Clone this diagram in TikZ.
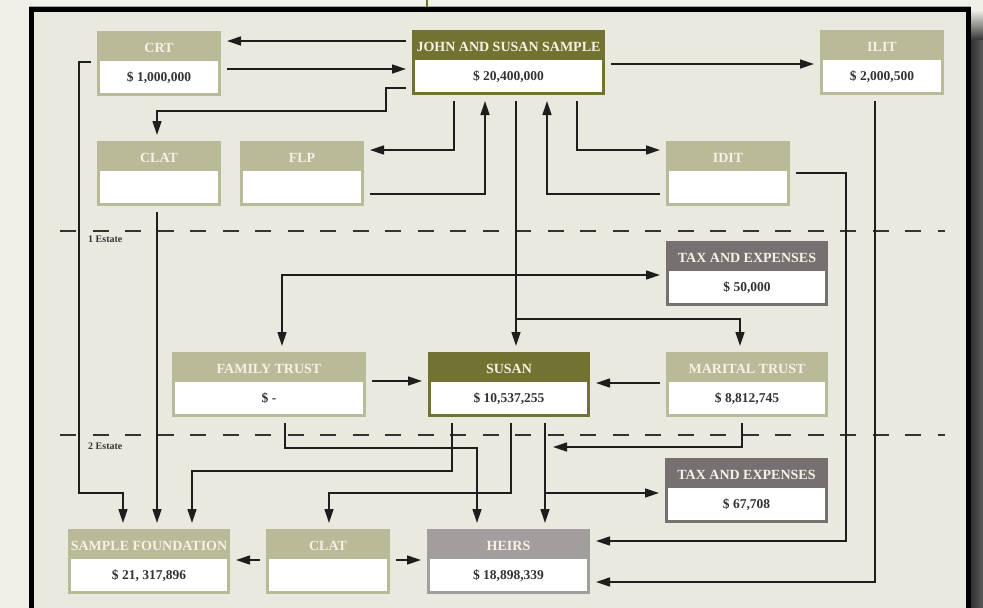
\documentclass[tikz,border=0pt]{standalone}
\usepackage{fontspec}
\setmainfont{Liberation Serif}
\usetikzlibrary{calc,arrows.meta}
\definecolor{pagebg}{HTML}{F0F0E8}
\definecolor{innerbg}{HTML}{E9E9E0}
\definecolor{sage}{HTML}{B9BA97}
\definecolor{olive}{HTML}{727331}
\definecolor{taxgray}{HTML}{767070}
\definecolor{heirgray}{HTML}{A39E9E}
\definecolor{headfg}{HTML}{F4F2E6}
\definecolor{valfg}{HTML}{333333}
\definecolor{linefg}{HTML}{1E1E1E}
\definecolor{shadowdark}{HTML}{333333}
\definecolor{shadowlight}{HTML}{5A5A5A}
\tikzset{
  boxshape/.style={rectangle, inner sep=0pt, outer sep=6pt, minimum height=65pt},
  headtext/.style={text=headfg, font=\bfseries\fontsize{14}{14}\selectfont, inner sep=0pt, anchor=base},
  valtext/.style={text=valfg, font=\bfseries\fontsize{13.5}{13.5}\selectfont, inner sep=0pt, anchor=base},
  conn/.style={draw=linefg, line width=1.4pt, -{Triangle[length=14pt,width=9pt]}},
  connboth/.style={draw=linefg, line width=1.4pt, {Triangle[length=14pt,width=9pt]}-{Triangle[length=14pt,width=9pt]}},
  estate/.style={text=valfg, font=\bfseries\fontsize{10}{10}\selectfont, inner sep=0pt, anchor=base west},
  divider/.style={draw=valfg, line width=2pt, dash pattern=on 16pt off 16.5pt}
}
% name, cx, cy, width, colour, header, value
\newcommand\ebox[7]{%
  \node[boxshape, fill=#5, minimum width=#4pt] (#1) at (#2,#3) {};
  \fill[white] ({#2-#4/2+3},{#3-2.5}) rectangle ({#2+#4/2-3},{#3+29.5});
  \node[headtext] (#1-h) at ({#2},{#3-11}) {#6};
  \node[valtext] (#1-v) at ({#2},{#3+18}) {#7};
}
\begin{document}
\begin{tikzpicture}[x=1pt,y=-1pt]
\useasboundingbox (0,0) rectangle (983,608);
% page and frame
\fill[pagebg] (0,0) rectangle (983,608);
\fill[innerbg] (34,12) rectangle (966,608);
\fill[black!35] (29,6) rectangle (971,7);
\fill[black] (29,7) rectangle (971,12);
\fill[black] (29,7) rectangle (34,608);
\fill[black] (966,7) rectangle (971,608);
\shade[top color=pagebg, bottom color=shadowdark] (971,10) rectangle (983,40);
\shade[left color=shadowdark, right color=shadowlight] (971,40) rectangle (983,608);
\fill[olive] (426,0) rectangle (428,7);
% dividers
\draw[divider] (60,231) -- (945,231);
\draw[divider] (60,435) -- (945,435);
\node[estate] (est1) at (88,242) {1 Estate};
\node[estate] (est2) at (88,449) {2 Estate};
% boxes
\ebox{crt}{159}{63}{124}{sage}{CRT}{\$ 1,000,000}
\ebox{jss}{508.5}{62.5}{193}{olive}{JOHN AND SUSAN SAMPLE}{\$ 20,400,000}
\ebox{ilit}{882}{62.5}{124}{sage}{ILIT}{\$ 2,000,500}
\ebox{clat1}{159}{173.5}{124}{sage}{CLAT}{}
\ebox{flp}{302}{173.5}{124}{sage}{FLP}{}
\ebox{idit}{728}{173.5}{124}{sage}{IDIT}{}
\ebox{tax1}{747}{273.5}{162}{taxgray}{TAX AND EXPENSES}{\$ 50,000}
\ebox{family}{269}{384.5}{194}{sage}{FAMILY TRUST}{\$ -}
\ebox{susan}{509}{384.5}{162}{olive}{SUSAN}{\$ 10,537,255}
\ebox{marital}{747}{384.5}{162}{sage}{MARITAL TRUST}{\$ 8,812,745}
\ebox{tax2}{746.5}{490.5}{163}{taxgray}{TAX AND EXPENSES}{\$ 67,708}
\ebox{sf}{149}{561.5}{162}{sage}{SAMPLE FOUNDATION}{\$ 21, 317,896}
\ebox{clat2}{328}{561.5}{124}{sage}{CLAT}{}
\ebox{heirs}{508.5}{561.5}{163}{heirgray}{HEIRS}{\$ 18,898,339}
% junction points
\coordinate (jm) at (516,319);
\coordinate (jh) at (545,493);
\coordinate (jmt) at (553,447);
% connectors, upper part
\draw[conn] (jss.west |- 0,41) -- (crt.east |- 0,41);
\draw[conn] (crt.east |- 0,69) -- (jss.west |- 0,69);
\draw[conn] (jss.west |- 0,88) -| (386,111) -| (clat1.north -| 157,0);
\draw[conn] (jss.south -| 454,0) |- (flp.east |- 0,150);
\draw[conn] (flp.east |- 0,194) -| (jss.south -| 485,0);
\draw[conn] (jss.east |- 0,64) -- (ilit.west |- 0,64);
\draw[conn] (idit.west |- 0,194) -| (jss.south -| 547,0);
\draw[conn] (jss.south -| 577,0) |- (idit.west |- 0,150);
\draw[conn] (jss.south -| 516,0) -- (susan.north -| 516,0);
\draw[conn] (jm) -| (marital.north -| 740,0);
\draw[conn] (idit.east |- 0,173) -| (846,541) -- (heirs.east |- 0,541);
\draw[conn] (ilit.south -| 875,0) |- (heirs.east |- 0,582);
\draw[conn] (crt.west |- 0,62) -| (79,493) -| (sf.north -| 123,0);
\draw[conn] (clat1.south -| 157,0) -- (sf.north -| 157,0);
% middle
\draw[connboth] (family.north -| 282,0) |- (tax1.west |- 0,275);
\draw[conn] (family.east |- 0,381) -- (susan.west |- 0,381);
\draw[conn] (marital.west |- 0,383) -- (susan.east |- 0,383);
% lower
\draw[conn] (family.south -| 285,0) |- (477,448) -- (heirs.north -| 477,0);
\draw[conn] (susan.south -| 452,0) |- (192,471) -- (sf.north -| 192,0);
\draw[conn] (susan.south -| 511,0) |- (329,493) -- (clat2.north -| 329,0);
\draw[conn] (susan.south -| 545,0) -- (heirs.north -| 545,0);
\draw[conn] (jh) -- (tax2.west |- 0,493);
\draw[conn] (marital.south -| 742,0) |- (jmt);
\draw[conn] (clat2.west |- 0,560) -- (sf.east |- 0,560);
\draw[conn] (clat2.east |- 0,560) -- (heirs.west |- 0,560);
\end{tikzpicture}
\end{document}
